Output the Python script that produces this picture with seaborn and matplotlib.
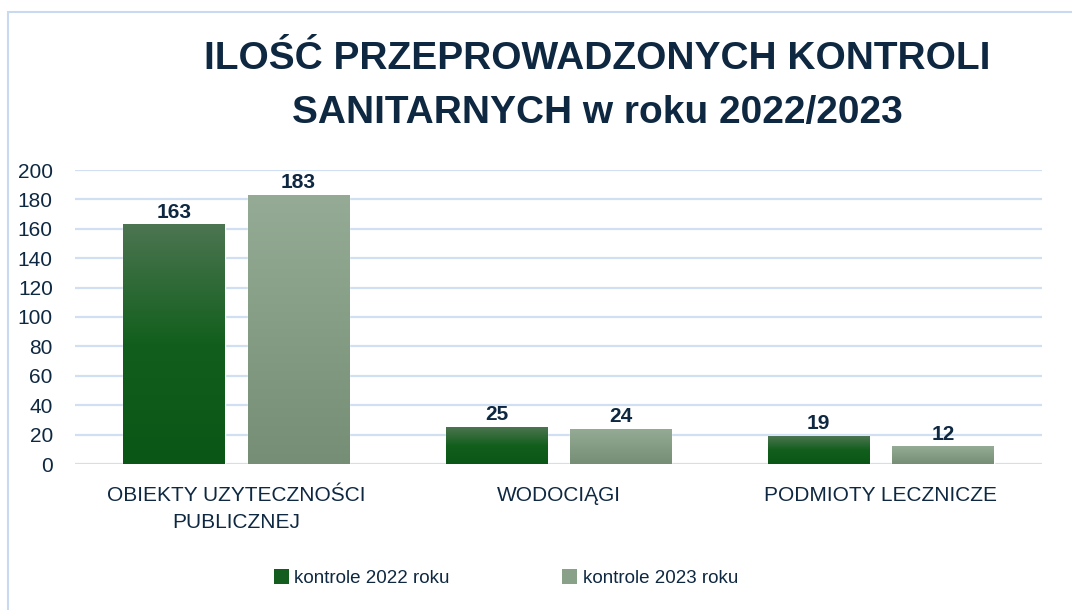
import numpy as np
import pandas as pd
import matplotlib
matplotlib.use("Agg")
import matplotlib.pyplot as plt
import seaborn as sns
from matplotlib.colors import LinearSegmentedColormap
from matplotlib.patches import Rectangle, Patch

categories = ["OBIEKTY UZYTECZNOŚCI\nPUBLICZNEJ", "WODOCIĄGI", "PODMIOTY LECZNICZE"]
series_names = ["kontrole 2022 roku", "kontrole 2023 roku"]
values_2022 = [163, 25, 19]
values_2023 = [183, 24, 12]
y_ticks = [0, 20, 40, 60, 80, 100, 120, 140, 160, 180, 200]
title_text = "ILOŚĆ PRZEPROWADZONYCH KONTROLI\nSANITARNYCH w roku 2022/2023"

df = pd.DataFrame({
    "kategoria": categories * 2,
    "seria": [series_names[0]] * 3 + [series_names[1]] * 3,
    "wartosc": values_2022 + values_2023,
})

sns.set_theme(style="white")
plt.rcParams["font.family"] = ["Liberation Sans", "DejaVu Sans"]

TXT = "#0E2841"
GRID = "#D0E0F2"
solid = {series_names[0]: "#135E1E", series_names[1]: "#89A189"}
grads = {
    series_names[0]: LinearSegmentedColormap.from_list(
        "g22", [(0, "#0A5616"), (0.5, "#125F1D"), (1, "#4C7551")]),
    series_names[1]: LinearSegmentedColormap.from_list(
        "g23", [(0, "#758E75"), (1, "#95AB95")]),
}

fig = plt.figure(figsize=(10.72, 6.10), dpi=100)
ax = fig.add_axes([75 / 1072, 1 - 464 / 610, (1042 - 75) / 1072, (464 - 170) / 610])

sns.barplot(data=df, x="kategoria", y="wartosc", hue="seria", order=categories,
            hue_order=series_names, palette=solid, width=0.77, gap=0.184,
            ax=ax, legend=False, saturation=1)

ax.set_xlim(-0.5, 2.5)
ax.set_ylim(0, 200)
ax.set_yticks(y_ticks)
ax.yaxis.grid(True, color=GRID, linewidth=1.6)
ax.set_axisbelow(True)
for s in ax.spines.values():
    s.set_visible(False)
ax.set_xlabel("")
ax.set_ylabel("")
ax.tick_params(axis="y", length=0, pad=16, labelsize=15, labelcolor=TXT)
ax.tick_params(axis="x", length=0, pad=16, labelsize=15, labelcolor=TXT)
for lbl in ax.get_xticklabels():
    lbl.set_linespacing(1.5)

# gradient fills clipped to each bar
grad = np.linspace(0, 1, 256).reshape(-1, 1)
for container, name in zip(ax.containers, series_names):
    for bar in container:
        x0, y0 = bar.get_x(), bar.get_y()
        w, h = bar.get_width(), bar.get_height()
        im = ax.imshow(grad, cmap=grads[name], origin="lower", aspect="auto",
                       extent=(x0, x0 + w, y0, y0 + h), zorder=2.5)
        im.set_clip_path(bar)
    ax.bar_label(container, padding=2, fontsize=15, fontweight="bold", color=TXT)
ax.set_xlim(-0.5, 2.5)
ax.set_ylim(0, 200)

fig.text(597 / 1072, 1 - 86 / 610, title_text, ha="center", va="center",
         fontsize=28, fontweight="bold", color=TXT, linespacing=1.62)

handles = [Patch(facecolor=solid[n], edgecolor="none") for n in series_names]
fig.legend(handles, series_names, loc="center", bbox_to_anchor=(506 / 1072, 1 - 578 / 610),
           ncol=2, frameon=False, fontsize=13.5, labelcolor=TXT, handlelength=0.8,
           handleheight=0.8, handletextpad=0.3, columnspacing=6.0)

fig.add_artist(Rectangle((8 / 1072, -0.1), 1.2, 1 - 12 / 610 + 0.1, transform=fig.transFigure,
                         fill=False, edgecolor="#C9DAF0", linewidth=1.5))

fig.savefig("out.png", dpi=100, facecolor="white")
